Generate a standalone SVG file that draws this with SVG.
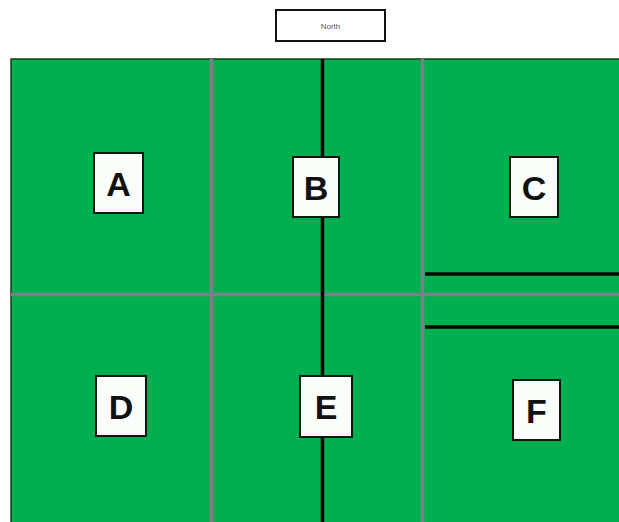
<svg xmlns="http://www.w3.org/2000/svg" width="619" height="522" viewBox="0 0 619 522">
<style>
.lbl rect{fill:#fbfdfb;stroke:#0a1a0a;stroke-width:2}
.lbl text{font-family:"Liberation Sans",Arial,sans-serif;font-weight:bold;font-size:34px;fill:#111;text-anchor:middle}
.grey{stroke:#7a7f8c;stroke-width:3.5;fill:none}
.blk{stroke:#050a05;stroke-width:3.5;fill:none}
</style>
<rect width="619" height="522" fill="#ffffff"/>
<g id="north">
<rect x="276" y="10" width="109" height="31" fill="#ffffff" stroke="#111" stroke-width="2"/>
<text x="330.5" y="29" font-family="Liberation Sans,Arial,sans-serif" font-size="8" fill="#555" text-anchor="middle">North</text>
</g>
<g id="field">
<rect x="11" y="59" width="610" height="465" fill="#00b050" stroke="#1a3a1a" stroke-width="1.5"/>
</g>
<g id="connectors">
<line class="grey" x1="211.5" y1="59" x2="211.5" y2="522"/>
<line class="grey" x1="422.5" y1="59" x2="422.5" y2="522"/>
<line class="grey" x1="11" y1="294.5" x2="619" y2="294.5"/>
<line class="blk" x1="322.5" y1="59" x2="322.5" y2="522"/>
<line class="blk" x1="425" y1="274" x2="619" y2="274"/>
<line class="blk" x1="425" y1="327" x2="619" y2="327"/>
</g>
<g id="A" class="lbl"><rect x="94" y="153" width="49" height="60"/><text x="118.5" y="196">A</text></g>
<g id="B" class="lbl"><rect x="293" y="157" width="46" height="60"/><text x="316" y="200">B</text></g>
<g id="C" class="lbl"><rect x="510" y="157" width="48" height="60"/><text x="534" y="200">C</text></g>
<g id="D" class="lbl"><rect x="96" y="376" width="50" height="60"/><text x="121" y="419">D</text></g>
<g id="E" class="lbl"><rect x="300" y="376" width="52" height="61"/><text x="326" y="419">E</text></g>
<g id="F" class="lbl"><rect x="513" y="380" width="47" height="60"/><text x="536.5" y="423">F</text></g>
</svg>
